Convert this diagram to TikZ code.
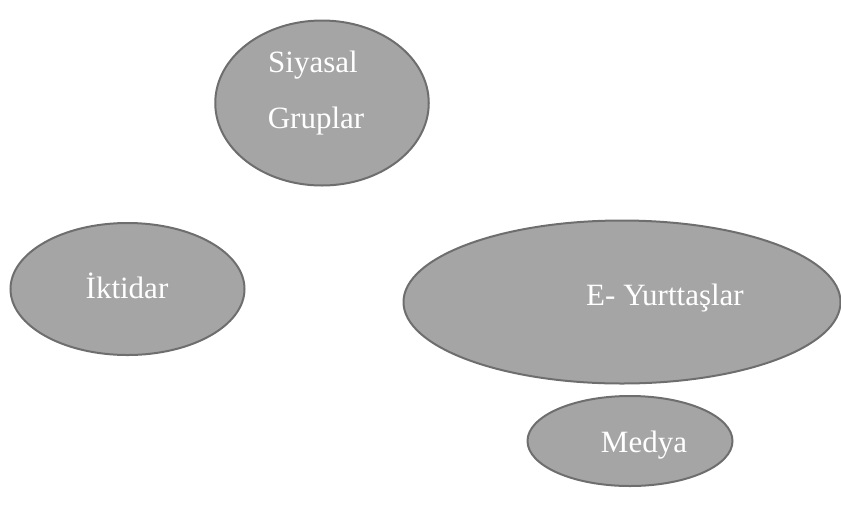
\documentclass[tikz,border=0pt]{standalone}
\usepackage{fontspec}
\setmainfont{Liberation Serif}
\usetikzlibrary{shapes.geometric}
\definecolor{blobfill}{HTML}{A5A5A5}
\definecolor{blobline}{HTML}{6E6E6E}
\begin{document}
\begin{tikzpicture}[x=0.75pt,y=-0.75pt,
  blob/.style={ellipse,draw=blobline,fill=blobfill,line width=1.5pt,inner sep=0pt},
  lbl/.style={anchor=base,text=white,font=\fontsize{23.25pt}{28pt}\selectfont,inner sep=0pt}]
\useasboundingbox (0,0) rectangle (841,515);
\node[blob,minimum width=213.5*0.75pt,minimum height=165*0.75pt] (sg) at (322,103) {};
\node[blob,minimum width=234*0.75pt,minimum height=132*0.75pt] (ik) at (127.5,289) {};
\node[blob,minimum width=437*0.75pt,minimum height=163*0.75pt] (ey) at (622,302) {};
\node[blob,minimum width=205*0.75pt,minimum height=90*0.75pt] (me) at (630,441) {};
\node[lbl] (t1) at (313,72) {Siyasal};
\node[lbl] (t2) at (316,128) {Gruplar};
\node[lbl] (t3) at (127,298) {İktidar};
\node[lbl] (t4) at (665,305) {E- Yurttaşlar};
\node[lbl] (t5) at (644,452) {Medya};
\end{tikzpicture}
\end{document}
